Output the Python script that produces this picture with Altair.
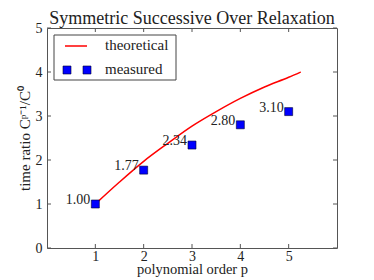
import altair as alt
import pandas as pd

# ---- data ----
orders = [1, 2, 3, 4, 5]
measured = [1.00, 1.77, 2.34, 2.80, 3.10]
measured_labels = ["1.00", "1.77", "2.34", "2.80", "3.10"]
theory_p = [1.0, 1.5, 2.0, 2.5, 3.0, 3.5, 4.0, 4.5, 5.0, 5.25]
theory_ratio = [1.0, 1.5, 1.97, 2.38, 2.77, 3.10, 3.40, 3.66, 3.88, 4.0]
x_ticks = [1, 2, 3, 4, 5]
y_ticks = [0, 1, 2, 3, 4, 5]
title_text = "Symmetric Successive Over Relaxation"

FONT = "Liberation Serif"
W, H = 290, 220
FRAME = "#555555"
INK = "#222222"

meas_df = pd.DataFrame({"p": orders, "ratio": measured, "label": measured_labels})
theo_df = pd.DataFrame({"p": theory_p, "ratio": theory_ratio})
xt_df = pd.DataFrame({"p": x_ticks})
yt_df = pd.DataFrame({"ratio": y_ticks})
one = pd.DataFrame({"k": [0]})

xscale = alt.Scale(domain=[0, 6], nice=False, zero=False)
yscale = alt.Scale(domain=[0, 5], nice=False, zero=False)

xaxis = alt.Axis(values=x_ticks, title="polynomial order p", grid=False, domain=False,
                 ticks=False, labelPadding=1, format="d",
                 labelFont=FONT, labelFontSize=14, labelColor=INK,
                 titleFont=FONT, titleFontSize=14.5, titleFontWeight="normal", titleColor=INK,
                 titleY=25, titleBaseline="alphabetic")
yaxis = alt.Axis(values=y_ticks, title="time ratio Cᵖ⁻¹/C⁰", grid=False, domain=False,
                 ticks=False, labelPadding=5, titlePadding=3, format="d",
                 labelFont=FONT, labelFontSize=14, labelColor=INK,
                 titleFont=FONT, titleFontSize=15, titleFontWeight="normal", titleColor=INK)

line = alt.Chart(theo_df).mark_line(color="#ff0000", strokeWidth=1.5,
                                    interpolate="monotone").encode(
    x=alt.X("p:Q", scale=xscale, axis=xaxis),
    y=alt.Y("ratio:Q", scale=yscale, axis=yaxis),
)

pts = alt.Chart(meas_df).mark_square(size=64, color="#0000ff", opacity=1,
                                     stroke="#000033", strokeWidth=0.6).encode(
    x=alt.X("p:Q", scale=xscale),
    y=alt.Y("ratio:Q", scale=yscale),
)

txt = alt.Chart(meas_df).mark_text(align="right", baseline="middle", dx=-5, dy=-4,
                                   font=FONT, fontSize=14, color=INK).encode(
    x=alt.X("p:Q", scale=xscale),
    y=alt.Y("ratio:Q", scale=yscale),
    text="label:N",
)

# inward ticks on all four sides
tick_top = alt.Chart(xt_df).mark_rule(color=FRAME, strokeWidth=1).encode(
    x=alt.X("p:Q", scale=xscale), y=alt.value(0), y2=alt.value(4))
tick_bot = alt.Chart(xt_df).mark_rule(color=FRAME, strokeWidth=1).encode(
    x=alt.X("p:Q", scale=xscale), y=alt.value(H - 4), y2=alt.value(H))
tick_left = alt.Chart(yt_df).mark_rule(color=FRAME, strokeWidth=1).encode(
    y=alt.Y("ratio:Q", scale=yscale), x=alt.value(0), x2=alt.value(4))
tick_right = alt.Chart(yt_df).mark_rule(color=FRAME, strokeWidth=1).encode(
    y=alt.Y("ratio:Q", scale=yscale), x=alt.value(W - 4), x2=alt.value(W))

# chart title as a text mark above the frame
title = alt.Chart(one).mark_text(align="center", baseline="alphabetic", font=FONT,
                                 fontSize=18, color=INK).encode(
    x=alt.value(W / 2), y=alt.value(-4), text=alt.value(title_text))

# manual legend (matplotlib style)
leg_box = alt.Chart(one).mark_rect(fill="white", stroke="#444444", strokeWidth=1).encode(
    x=alt.value(7), x2=alt.value(129), y=alt.value(7), y2=alt.value(52))
leg_line = alt.Chart(one).mark_rule(color="#ff0000", strokeWidth=1.5).encode(
    x=alt.value(18), x2=alt.value(40), y=alt.value(18))
leg_sq1 = alt.Chart(one).mark_square(size=64, color="#0000ff", opacity=1,
                                     stroke="#000033", strokeWidth=0.6).encode(
    x=alt.value(20), y=alt.value(42))
leg_sq2 = alt.Chart(one).mark_square(size=64, color="#0000ff", opacity=1,
                                     stroke="#000033", strokeWidth=0.6).encode(
    x=alt.value(40), y=alt.value(42))
leg_t1 = alt.Chart(one).mark_text(align="left", baseline="middle", font=FONT, fontSize=15,
                                  color=INK).encode(
    x=alt.value(58), y=alt.value(17), text=alt.value("theoretical"))
leg_t2 = alt.Chart(one).mark_text(align="left", baseline="middle", font=FONT, fontSize=15,
                                  color=INK).encode(
    x=alt.value(58), y=alt.value(41), text=alt.value("measured"))

chart = alt.layer(
    line, pts, txt, tick_top, tick_bot, tick_left, tick_right, title,
    leg_box, leg_line, leg_sq1, leg_sq2, leg_t1, leg_t2,
).properties(
    width=W, height=H,
    autosize=alt.AutoSizeParams(type="none"),
    padding={"left": 39, "top": 20, "right": 29, "bottom": 29},
).configure_view(
    stroke=FRAME, strokeWidth=1
)

chart.save("out.html", embed_options={"renderer": "svg", "actions": False})
